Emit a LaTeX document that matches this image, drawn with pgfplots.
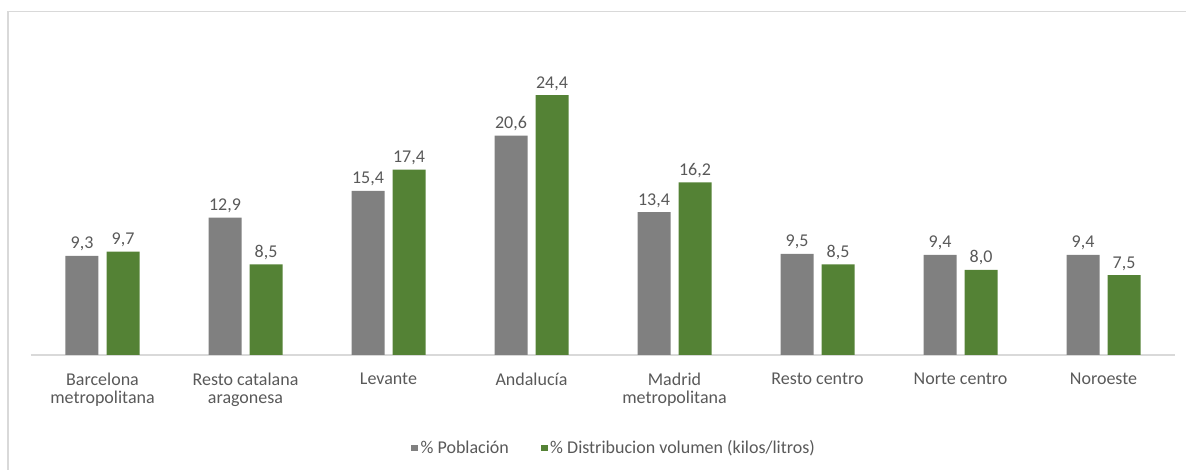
\documentclass[border=0pt]{standalone}
\usepackage{fontspec}
\setmainfont{Carlito}
\usepackage{pgfplots}
\pgfplotsset{compat=1.18}
\definecolor{bargray}{HTML}{808080}
\definecolor{bargreen}{HTML}{548235}
\definecolor{txtgray}{HTML}{595959}
\definecolor{linegray}{HTML}{D9D9D9}
\begin{document}
\begin{tikzpicture}
\begin{axis}[
  scale only axis,
  width=858pt, height=207.75pt,
  ymin=0, ymax=26,
  xmin=-0.5, xmax=7.5,
  ybar=6pt, bar width=24.75pt,
  axis y line=none,
  axis x line*=bottom,
  x axis line style={-, draw=linegray, line width=1pt},
  xtick=data,
  xtick style={draw=none},
  xticklabels={{Barcelona\\metropolitana},{Resto catalana\\aragonesa},{Levante},{Andalucía},{Madrid\\metropolitana},{Resto centro},{Norte centro},{Noroeste}},
  xticklabel style={align=center, text=txtgray, font=\fontsize{13.5}{13}\selectfont, yshift=-6pt},
  clip=false,
  nodes near coords,
  nodes near coords style={text=txtgray, font=\fontsize{13.5}{15}\selectfont, /pgf/number format/.cd, use comma, fixed, fixed zerofill, precision=1, assume math mode=true},
  legend style={at={(0.51,-0.336)}, anchor=center, legend columns=2, draw=none, fill=none,
    font=\fontsize{13.5}{15}\selectfont, text=txtgray,
    /tikz/every even column/.append style={column sep=22pt}},
  legend image code/.code={\fill[#1] (0pt,-2.5pt) rectangle (5pt,2.5pt);},
]
\addplot[fill=bargray, draw=none] coordinates {(0,9.3) (1,12.9) (2,15.4) (3,20.6) (4,13.4) (5,9.5) (6,9.4) (7,9.4)};
\addplot[fill=bargreen, draw=none] coordinates {(0,9.7) (1,8.5) (2,17.4) (3,24.4) (4,16.2) (5,8.5) (6,8.0) (7,7.5)};
\legend{\% Población, \% Distribucion volumen (kilos/litros)}
\end{axis}
\draw[linegray, line width=1.2pt] (-17.25pt,-86.25pt) -- (-17.25pt,257.6pt) -- (866.25pt,257.6pt);
\pgfresetboundingbox
\path (-23.25pt,-86.25pt) rectangle (866.25pt,266.25pt);
\end{tikzpicture}
\end{document}
